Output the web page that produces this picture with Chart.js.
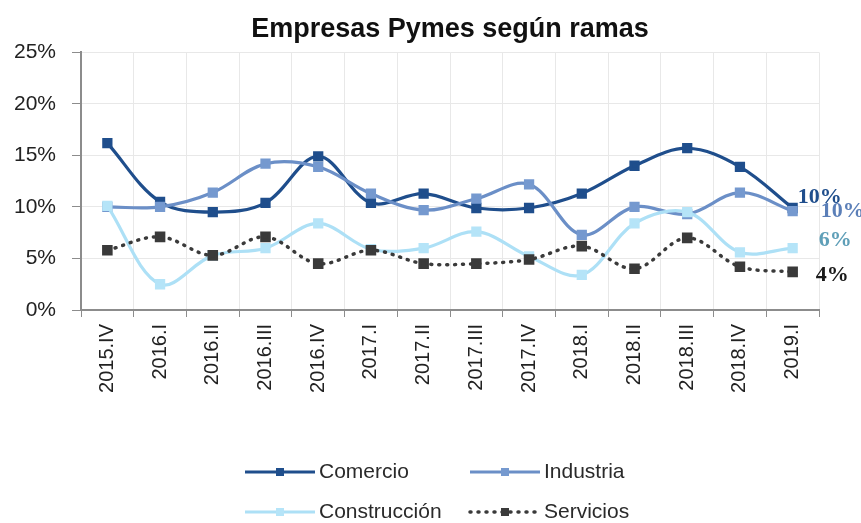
<!DOCTYPE html>
<html>
<head>
<meta charset="utf-8">
<script src="https://cdn.jsdelivr.net/npm/chart.js@4.4.0/dist/chart.umd.min.js"></script>
<style>
  html, body { margin: 0; padding: 0; background: #ffffff; }
  #wrap { width: 861px; height: 523px; }
</style>
</head>
<body>
<div id="wrap"><canvas id="myChart" width="861" height="523"></canvas></div>
<script>
// data (percent)
const quarters = ["2015.IV", "2016.I", "2016.II", "2016.III", "2016.IV", "2017.I", "2017.II",
                  "2017.III", "2017.IV", "2018.I", "2018.II", "2018.III", "2018.IV", "2019.I"];
const comercio     = [16.2, 10.5, 9.5, 10.4, 14.9, 10.4, 11.3, 9.9, 9.9, 11.3, 14.0, 15.7, 13.9, 9.9];
const industria    = [10.0, 10.0, 11.4, 14.2, 13.9, 11.3, 9.7, 10.8, 12.2, 7.3, 10.0, 9.3, 11.4, 9.6];
const construccion = [10.1, 2.5, 5.3, 6.0, 8.4, 5.9, 6.0, 7.6, 5.2, 3.4, 8.4, 9.5, 5.6, 6.0];
const servicios    = [5.8, 7.1, 5.3, 7.1, 4.5, 5.8, 4.5, 4.5, 4.9, 6.2, 4.0, 7.0, 4.2, 3.7];
const yTicks = [0, 5, 10, 15, 20, 25];

const FONT = "'Liberation Sans', Arial, sans-serif";

// end-of-series labels, offsets from the last point
const endLabels = [
    {color: '#1f4e8c', dx: 5,  dy: -11},
    {color: '#5b7fb8', dx: 28, dy: 0},
    {color: '#5f9fb8', dx: 26, dy: -8},
    {color: '#1a1a1a', dx: 23, dy: 3}
];

const endLabelPlugin = {
    id: 'endLabels',
    afterDatasetsDraw(chart) {
        const c = chart.ctx;
        c.save();
        c.font = "bold 22px 'Liberation Serif', 'Times New Roman', serif";
        c.textAlign = 'left';
        c.textBaseline = 'middle';
        chart.data.datasets.forEach((ds, i) => {
            const meta = chart.getDatasetMeta(i);
            const pt = meta.data[meta.data.length - 1];
            const v = ds.data[ds.data.length - 1];
            c.fillStyle = endLabels[i].color;
            c.fillText(Math.round(v) + '%', pt.x + endLabels[i].dx, pt.y + endLabels[i].dy);
        });
        c.restore();
    }
};

// legend in two columns below the axis
const legendItems = [
    {col: 0, row: 0},
    {col: 1, row: 0},
    {col: 0, row: 1},
    {col: 1, row: 1}
];
const legendPlugin = {
    id: 'gridLegend',
    afterDraw(chart) {
        const c = chart.ctx;
        const colX = [245, 470];
        const rowY = [472, 512];
        c.save();
        c.font = "21px " + FONT;
        c.textBaseline = 'middle';
        chart.data.datasets.forEach((ds, i) => {
            const x0 = colX[legendItems[i].col];
            const y = rowY[legendItems[i].row];
            const x1 = x0 + 70;
            c.strokeStyle = ds.borderColor;
            c.lineWidth = ds.borderWidth;
            c.lineCap = ds.borderDash ? 'round' : 'butt';
            c.setLineDash(ds.borderDash || []);
            c.beginPath();
            c.moveTo(x0, y);
            c.lineTo(x1, y);
            c.stroke();
            c.setLineDash([]);
            c.fillStyle = ds.pointBackgroundColor;
            c.fillRect((x0 + x1) / 2 - 4, y - 4, 8, 8);
            c.fillStyle = '#2a2a2a';
            c.fillText(ds.label, x1 + 4, y);
        });
        c.restore();
    }
};

function line(label, data, color, pointColor, order, dash) {
    return {
        label: label,
        data: data,
        order: order,
        borderColor: color,
        backgroundColor: pointColor,
        pointBackgroundColor: pointColor,
        pointBorderColor: pointColor,
        pointStyle: 'rect',
        pointRadius: 5,
        borderWidth: dash ? 3.5 : 3.2,
        borderDash: dash,
        borderCapStyle: 'round',
        tension: 0.35,
        fill: false
    };
}

const config = {
    type: 'line',
    data: {
        labels: quarters,
        datasets: [
            line('Comercio', comercio, '#1f4e8c', '#1f4e8c', 3),
            line('Industria', industria, '#6b8fc7', '#7599cf', 2),
            line('Construcción', construccion, '#ade0f6', '#b5e4f8', 1),
            line('Servicios', servicios, '#3a3a3a', '#3a3a3a', 0, [1, 7])
        ]
    },
    plugins: [endLabelPlugin, legendPlugin],
    options: {
        responsive: false,
        animation: false,
        layout: { padding: { left: 0, right: 42, top: 0, bottom: 0 } },
        scales: {
            x: {
                offset: true,
                grid: { offset: true, color: '#e8e8e8', tickColor: '#8c8c8c', tickLength: 7 },
                border: { color: '#8c8c8c', width: 2 },
                ticks: {
                    minRotation: 90, maxRotation: 90, padding: 7,
                    color: '#222222', font: { family: FONT, size: 20 }
                },
                afterFit: s => { s.height = 213; }
            },
            y: {
                min: 0, max: 25,
                afterBuildTicks: s => { s.ticks = yTicks.map(v => ({value: v})); },
                grid: { color: '#e8e8e8', tickColor: '#8c8c8c', tickLength: 9 },
                border: { color: '#8c8c8c', width: 2 },
                ticks: {
                    padding: 16, color: '#222222',
                    font: { family: FONT, size: 21 },
                    callback: v => v + '%'
                },
                afterFit: s => { s.width = 81; }
            }
        },
        plugins: {
            legend: { display: false },
            tooltip: { enabled: false },
            title: {
                display: true,
                fullSize: false,
                text: 'Empresas Pymes según ramas',
                color: '#111111',
                font: { family: FONT, size: 27, weight: 'bold', lineHeight: 1.2 },
                padding: { top: 13, bottom: 7 }
            }
        }
    }
};

const ctx = document.getElementById('myChart');
const myChart = new Chart(ctx, config);
</script>
</body>
</html>
